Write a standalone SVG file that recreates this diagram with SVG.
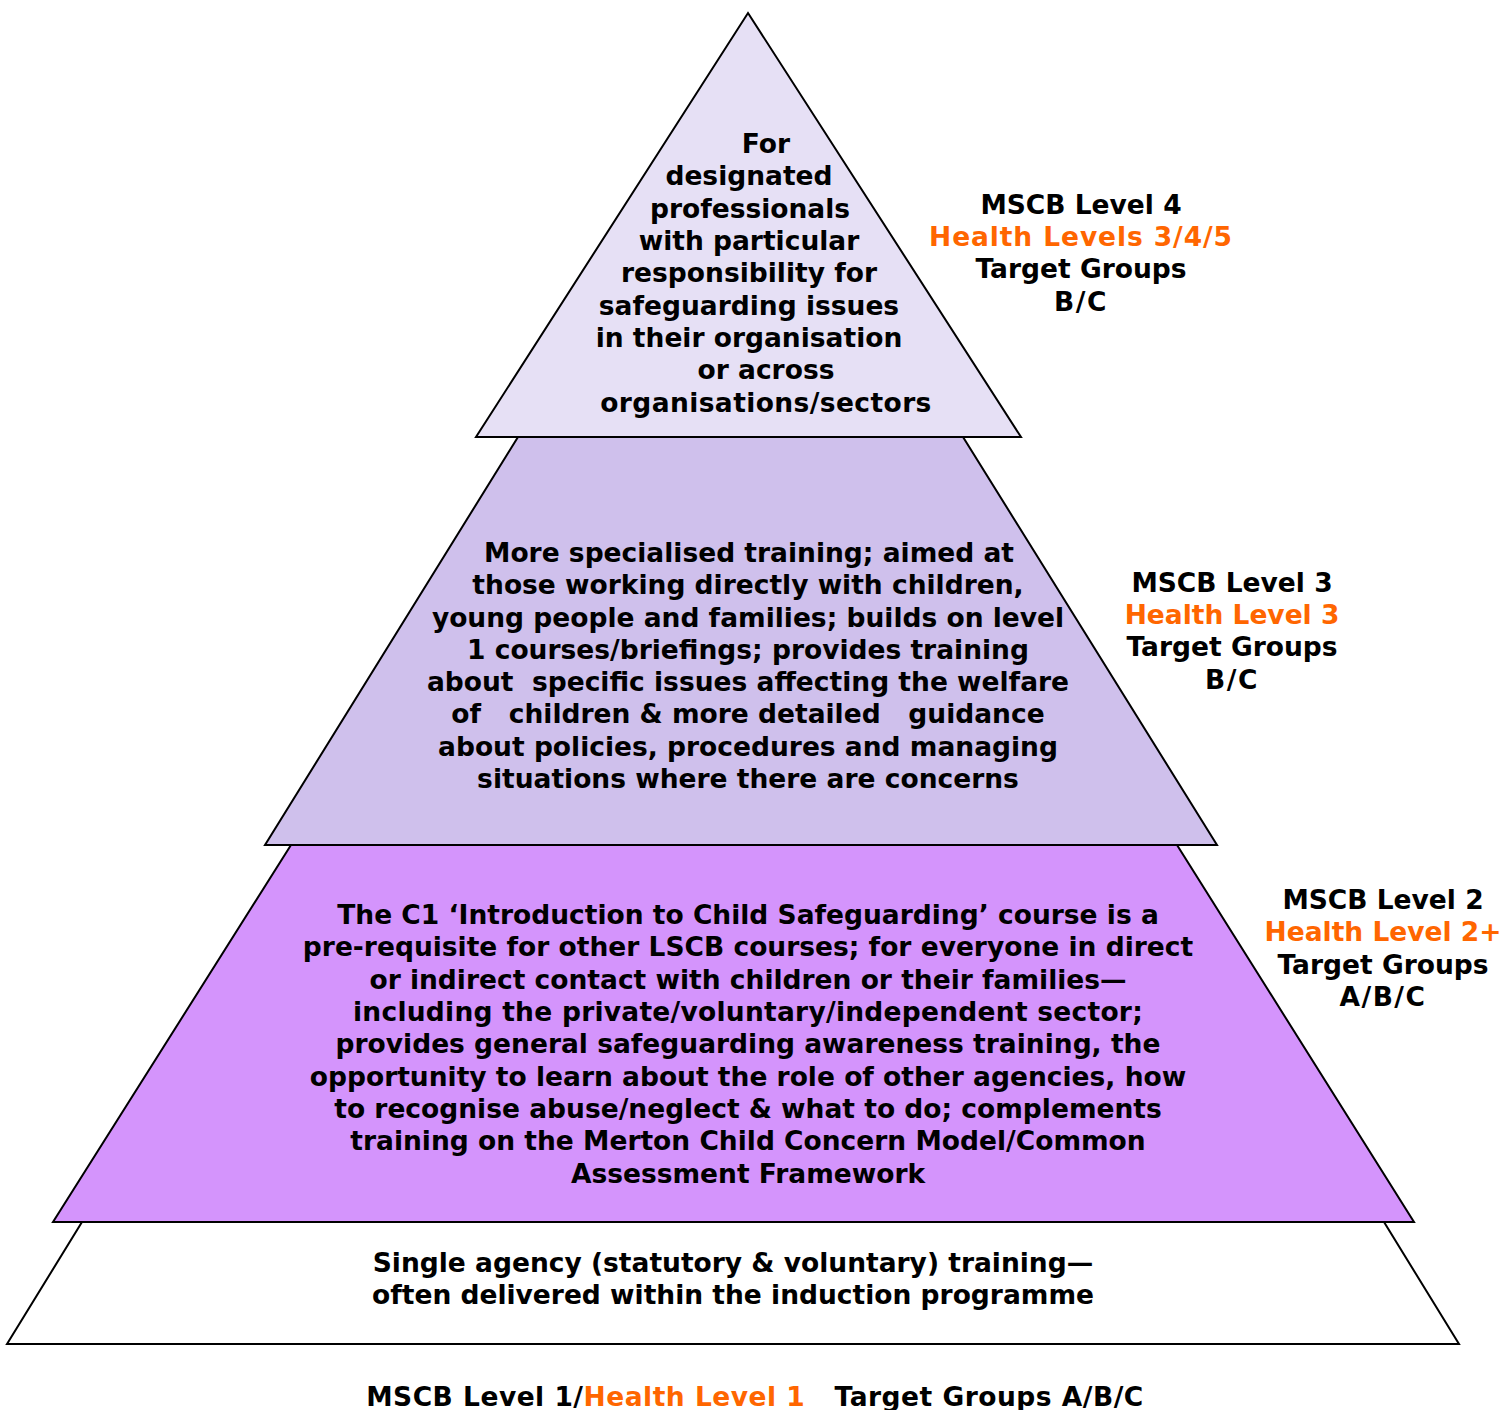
<svg xmlns="http://www.w3.org/2000/svg" width="1512" height="1410" viewBox="0 0 1512 1410">
<style>
.tier{stroke:#000;stroke-width:2;stroke-linejoin:miter}
text{font-family:"DejaVu Sans","Verdana",sans-serif;font-weight:bold;font-size:26.5px;fill:#000;text-anchor:middle;white-space:pre}
.or{fill:#FF6600}
</style>
<rect width="1512" height="1410" fill="#fff"/>
<g id="tier1">
<polygon class="tier" fill="#FFFFFF" points="82,1222 1384,1222 1459,1344 7,1344"/>
<text x="733" y="1272">Single agency (statutory &amp; voluntary) training—</text>
<text x="733" y="1304">often delivered within the induction programme</text>
</g>
<g id="tier2">
<polygon class="tier" fill="#D494FC" points="291,845 1177,845 1414,1222 53,1222"/>
<text x="748" y="924">The C1 ‘Introduction to Child Safeguarding’ course is a</text>
<text x="748" y="956">pre-requisite for other LSCB courses; for everyone in direct</text>
<text x="748" y="989">or indirect contact with children or their families—</text>
<text x="748" y="1021" letter-spacing="0.25">including the private/voluntary/independent sector;</text>
<text x="748" y="1053">provides general safeguarding awareness training, the</text>
<text x="748" y="1086">opportunity to learn about the role of other agencies, how</text>
<text x="748" y="1118">to recognise abuse/neglect &amp; what to do; complements</text>
<text x="748" y="1150">training on the Merton Child Concern Model/Common</text>
<text x="748" y="1183">Assessment Framework</text>
</g>
<g id="tier3">
<polygon class="tier" fill="#CFC0EC" points="518,437 963,437 1217,845 265,845"/>
<text x="749" y="562">More specialised training; aimed at</text>
<text x="748" y="594">those working directly with children,</text>
<text x="748" y="627">young people and families; builds on level</text>
<text x="748" y="659">1 courses/briefings; provides training</text>
<text x="748" y="691">about  specific issues affecting the welfare</text>
<text x="748" y="723">of   children &amp; more detailed   guidance</text>
<text x="748" y="756">about policies, procedures and managing</text>
<text x="748" y="788">situations where there are concerns</text>
</g>
<g id="tier4">
<polygon class="tier" fill="#E6E0F5" points="748,13 1021,437 476,437"/>
<text x="766" y="153">For</text>
<text x="749" y="185">designated</text>
<text x="750" y="218">professionals</text>
<text x="749" y="250">with particular</text>
<text x="749" y="282">responsibility for</text>
<text x="749" y="315">safeguarding issues</text>
<text x="749" y="347">in their organisation</text>
<text x="766" y="379">or across</text>
<text x="766" y="412" letter-spacing="0.4">organisations/sectors</text>
</g>
<g id="label4">
<text x="1081" y="214">MSCB Level 4</text>
<text x="1081" y="246" class="or" letter-spacing="0.9">Health Levels 3/4/5</text>
<text x="1081" y="278">Target Groups</text>
<text x="1081" y="311" letter-spacing="1.5">B/C</text>
</g>
<g id="label3">
<text x="1232" y="592">MSCB Level 3</text>
<text x="1232" y="624" class="or">Health Level 3</text>
<text x="1232" y="656">Target Groups</text>
<text x="1232" y="689" letter-spacing="1.5">B/C</text>
</g>
<g id="label2">
<text x="1383" y="909">MSCB Level 2</text>
<text x="1383" y="941" class="or">Health Level 2+</text>
<text x="1383" y="974">Target Groups</text>
<text x="1383" y="1006" letter-spacing="1.5">A/B/C</text>
</g>
<g id="label1">
<text x="755" y="1406" letter-spacing="0.5">MSCB Level 1/<tspan class="or">Health Level 1</tspan>   Target Groups A/B/C</text>
</g>
<g id="connectors"/>
</svg>
